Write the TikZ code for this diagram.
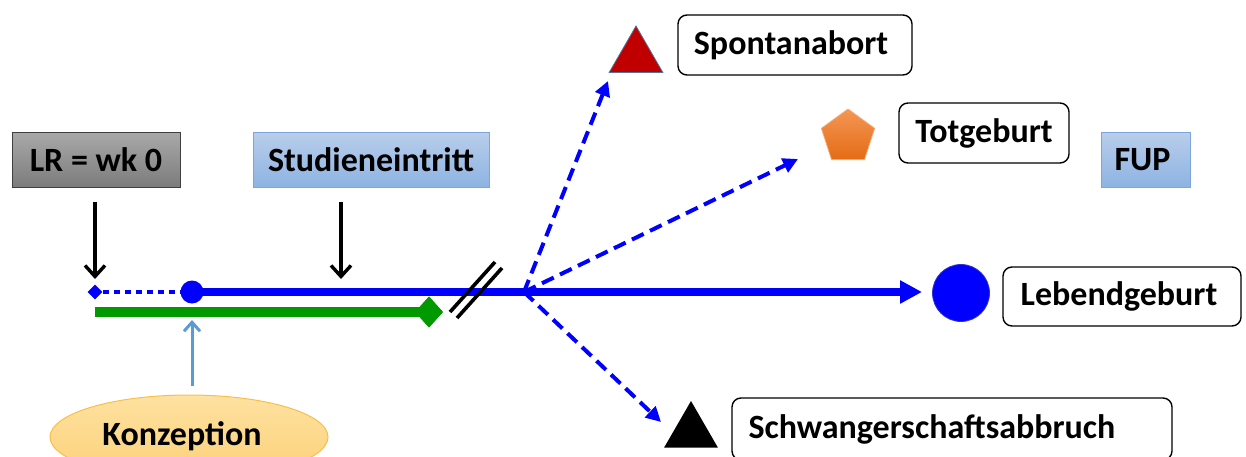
\documentclass[tikz,border=0pt]{standalone}
\usepackage{fontspec}
\setmainfont{Carlito}
\usetikzlibrary{arrows.meta,shapes.geometric}
\definecolor{myblue}{RGB}{0,0,255}
\definecolor{mygreen}{RGB}{0,153,0}
\definecolor{lbtop}{RGB}{184,206,235}
\definecolor{lbbot}{RGB}{141,179,226}
\definecolor{lbborder}{RGB}{122,166,218}
\definecolor{gtop}{RGB}{168,168,168}
\definecolor{gbot}{RGB}{124,124,124}
\definecolor{otop}{RGB}{254,226,160}
\definecolor{obot}{RGB}{252,208,120}
\definecolor{oborder}{RGB}{248,192,74}
\definecolor{pentop}{RGB}{244,150,85}
\definecolor{penbot}{RGB}{228,108,22}
\definecolor{darkred}{RGB}{192,0,0}
\definecolor{konzarrow}{RGB}{91,155,213}
\tikzset{
  txt/.style={font=\bfseries\fontsize{34}{38}\selectfont, text=black},
  outcome/.style={txt, draw=black, line width=1.4pt, rounded corners=9pt, fill=white, inner sep=0pt},
  phase/.style={txt, inner sep=0pt, top color=lbtop, bottom color=lbbot, draw=lbborder, line width=1pt},
  blkarrow/.style={line width=3.4pt, -{Straight Barb[length=11pt,width=20pt,line width=3.4pt]}},
  dasharrow/.style={myblue, line width=4pt, dash pattern=on 13pt off 7pt, -{Triangle[length=15pt,width=15pt]}},
  slash/.style={line width=3.6pt, black}
}
\begin{document}
\begin{tikzpicture}[x=1pt,y=-1pt]
\useasboundingbox (0,0) rectangle (1246,457);
\clip (0,0) rectangle (1246,457);
% top labels
\node[txt, inner sep=0pt, top color=gtop, bottom color=gbot, draw=black!75, line width=1pt,
      minimum width=168pt, minimum height=54pt] (lr) at (96,160) {LR = wk 0};
\node[phase, minimum width=236pt, minimum height=54pt] (si) at (371,160) {Studieneintritt};
\node[phase, minimum width=89pt, minimum height=54pt] (fup) at (1145.5,160) {FUP\kern6pt};
% timeline markers
\node[diamond, fill=myblue, inner sep=0pt, minimum size=15pt] (d0) at (95,292) {};
\node[circle, fill=myblue, inner sep=0pt, minimum size=23pt] (c0) at (192,292) {};
\coordinate (br) at (524,292);
\coordinate (lbtip) at (922,292);
\coordinate (g0) at (95,312);
\node[diamond, fill=mygreen, inner sep=0pt, minimum width=28pt, minimum height=31pt] (gd) at (429,312) {};
% arrows from labels
\coordinate (lra) at (95,202); \coordinate (lrb) at (95,279);
\coordinate (sia) at (341,202); \coordinate (sib) at (341,279);
\draw[blkarrow] (lra) -- (lrb);
\draw[blkarrow] (sia) -- (sib);
% lines
\draw[myblue, line width=4.5pt, dash pattern=on 6pt off 5pt] (d0.east) -- (c0.west);
\draw[mygreen, line width=10pt] (g0) -- (gd.center);
\node[diamond, fill=mygreen, inner sep=0pt, minimum width=28pt, minimum height=31pt] at (gd) {};
\draw[myblue, line width=8pt, -{Triangle[length=22pt,width=22pt]}] (c0.center) -- (lbtip);
% break marks
\coordinate (s1a) at (450,312); \coordinate (s1b) at (495,262);
\coordinate (s2a) at (457,318); \coordinate (s2b) at (502,268);
\draw[slash] (s1a) -- (s1b);
\draw[slash] (s2a) -- (s2b);
% outcome symbols
\node[regular polygon, regular polygon sides=3, minimum size=62pt, inner sep=0pt,
      fill=darkred, draw=lbborder!70!black, line width=0.8pt] (sa) at (636,57) {};
\node[regular polygon, regular polygon sides=5, minimum size=56pt, inner sep=0pt,
      top color=pentop, bottom color=penbot, draw=pentop!80!white, line width=0.8pt] (tg) at (848,137) {};
\node[circle, fill=myblue, draw=myblue!60!gray, line width=0.8pt, inner sep=0pt, minimum size=57pt] (lg) at (961,293) {};
\node[regular polygon, regular polygon sides=3, minimum size=62pt, inner sep=0pt, fill=black] (sb) at (691,432) {};
% dashed arrows
\coordinate (sat) at (608,81);
\coordinate (tgt) at (798,159);
\coordinate (sbt) at (661,422);
\draw[dasharrow] (br) -- (sat);
\draw[dasharrow] (br) -- (tgt);
\draw[dasharrow] (br) -- (sbt);
% outcome boxes
\node[outcome, minimum width=234pt, minimum height=60pt] (sab) at (795,45) {Spontanabort\kern8pt};
\node[outcome, minimum width=170pt, minimum height=60pt] (tgb) at (984,133) {Totgeburt};
\node[outcome, minimum width=238pt, minimum height=59pt] (lgb) at (1122,296.5) {Lebendgeburt\kern6pt};
\node[outcome, minimum width=440pt, minimum height=62pt] (sbb) at (952,429) {Schwangerschaftsabbruch\kern40pt};
% Konzeption
\node[ellipse, txt, inner sep=0pt, minimum width=278pt, minimum height=84pt,
      top color=otop, bottom color=obot, draw=oborder, line width=1pt] (kz) at (189,437) {\raisebox{6pt}{Konzeption}\kern14pt};
\coordinate (kza) at (192,386); \coordinate (kzb) at (192,320);
\draw[konzarrow, line width=3pt, -{Straight Barb[length=9pt,width=16pt,line width=3pt]}] (kza) -- (kzb);
\end{tikzpicture}
\end{document}
